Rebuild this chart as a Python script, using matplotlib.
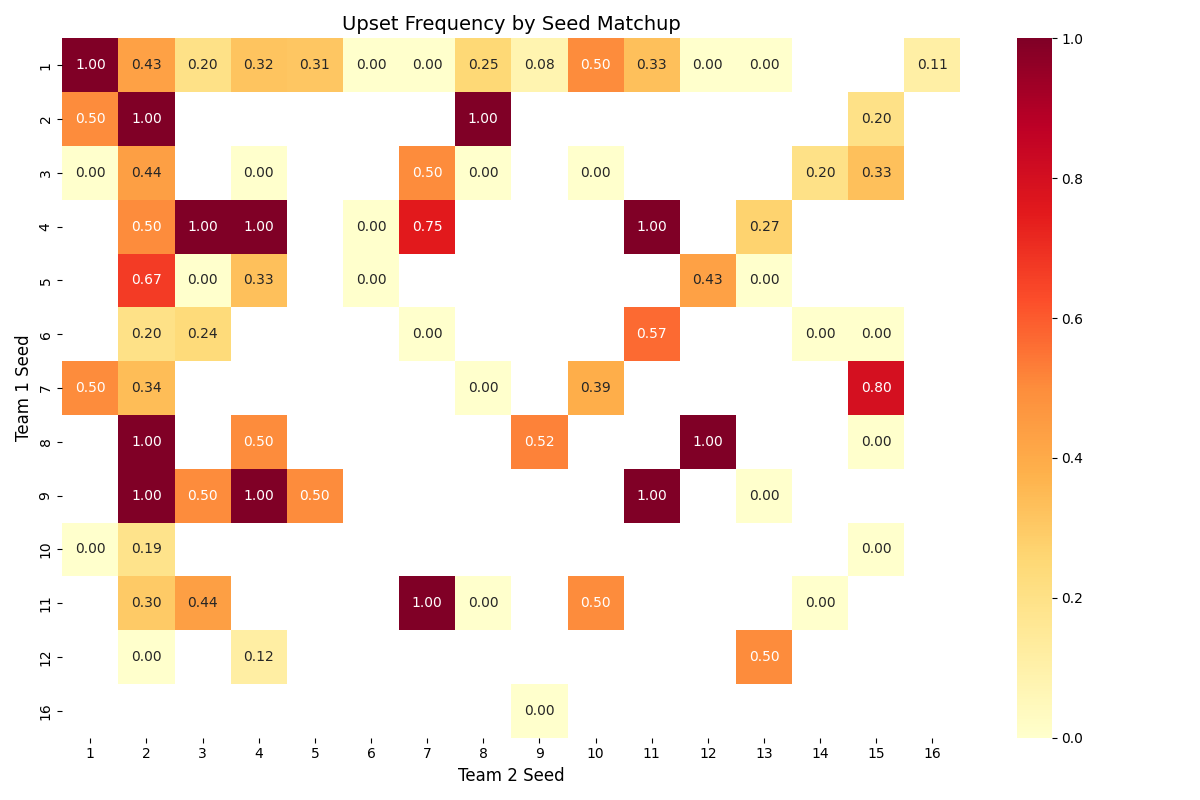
import numpy as np
import pandas as pd
import seaborn as sns
from matplotlib import pyplot as plt

nan = np.nan

team1_seeds = [1, 2, 3, 4, 5, 6, 7, 8, 9, 10, 11, 12, 16]
team2_seeds = list(range(1, 17))

# upset frequency, one row per team 1 seed, columns = team 2 seed 1..16
row_1 = [1.00, 0.43, 0.20, 0.32, 0.31, 0.00, 0.00, 0.25, 0.08, 0.50, 0.33, 0.00, 0.00, nan, nan, 0.11]
row_2 = [0.50, 1.00, nan, nan, nan, nan, nan, 1.00, nan, nan, nan, nan, nan, nan, 0.20, nan]
row_3 = [0.00, 0.44, nan, 0.00, nan, nan, 0.50, 0.00, nan, 0.00, nan, nan, nan, 0.20, 0.33, nan]
row_4 = [nan, 0.50, 1.00, 1.00, nan, 0.00, 0.75, nan, nan, nan, 1.00, nan, 0.27, nan, nan, nan]
row_5 = [nan, 0.67, 0.00, 0.33, nan, 0.00, nan, nan, nan, nan, nan, 0.43, 0.00, nan, nan, nan]
row_6 = [nan, 0.20, 0.24, nan, nan, nan, 0.00, nan, nan, nan, 0.57, nan, nan, 0.00, 0.00, nan]
row_7 = [0.50, 0.34, nan, nan, nan, nan, nan, 0.00, nan, 0.39, nan, nan, nan, nan, 0.80, nan]
row_8 = [nan, 1.00, nan, 0.50, nan, nan, nan, nan, 0.52, nan, nan, 1.00, nan, nan, 0.00, nan]
row_9 = [nan, 1.00, 0.50, 1.00, 0.50, nan, nan, nan, nan, nan, 1.00, nan, 0.00, nan, nan, nan]
row_10 = [0.00, 0.19, nan, nan, nan, nan, nan, nan, nan, nan, nan, nan, nan, nan, 0.00, nan]
row_11 = [nan, 0.30, 0.44, nan, nan, nan, 1.00, 0.00, nan, 0.50, nan, nan, nan, 0.00, nan, nan]
row_12 = [nan, 0.00, nan, 0.12, nan, nan, nan, nan, nan, nan, nan, nan, 0.50, nan, nan, nan]
row_16 = [nan, nan, nan, nan, nan, nan, nan, nan, 0.00, nan, nan, nan, nan, nan, nan, nan]

pivot = pd.DataFrame(
    [row_1, row_2, row_3, row_4, row_5, row_6, row_7, row_8, row_9,
     row_10, row_11, row_12, row_16],
    index=team1_seeds, columns=team2_seeds)

plt.figure(figsize=(12, 8))
sns.heatmap(pivot, annot=True, fmt=".2f", cmap="YlOrRd", vmin=0, vmax=1)
plt.title("Upset Frequency by Seed Matchup", fontsize=14)
plt.xlabel("Team 2 Seed", fontsize=12)
plt.ylabel("Team 1 Seed", fontsize=12)
plt.tight_layout()
plt.savefig("out.png", dpi=100)
